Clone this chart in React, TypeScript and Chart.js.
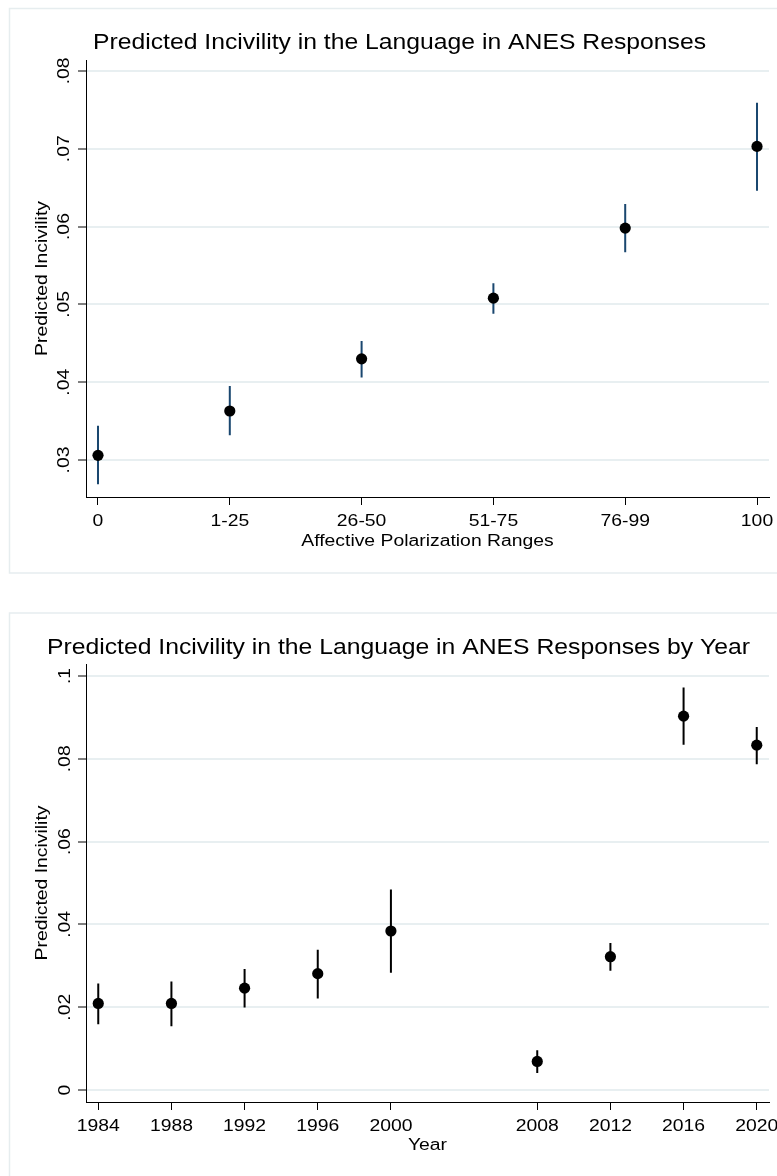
import { useEffect, useRef } from 'react';
import { Chart, registerables } from 'chart.js';

Chart.register(...registerables);

// Affective polarization ranges: predicted incivility with 95% CIs
const rangeLabels = ['0', '1-25', '26-50', '51-75', '76-99', '100'];
const rangePositions = [0, 1, 2, 3, 4, 5];
const rangeEstimate = [0.0306, 0.0363, 0.043, 0.0508, 0.0598, 0.0703];
const rangeLower = [0.0269, 0.0332, 0.0406, 0.0488, 0.0567, 0.0646];
const rangeUpper = [0.0344, 0.0395, 0.0453, 0.0527, 0.0629, 0.0759];
const rangeYTicks = [0.03, 0.04, 0.05, 0.06, 0.07, 0.08];
const rangeYTickLabels = ['.03', '.04', '.05', '.06', '.07', '.08'];

// Survey years: predicted incivility with 95% CIs
const years = [1984, 1988, 1992, 1996, 2000, 2008, 2012, 2016, 2020];
const yearLabels = ['1984', '1988', '1992', '1996', '2000', '2008', '2012', '2016', '2020'];
const yearEstimate = [0.0209, 0.0209, 0.0246, 0.0281, 0.0384, 0.0069, 0.0322, 0.0903, 0.0833];
const yearLower = [0.0159, 0.0154, 0.0199, 0.0221, 0.0283, 0.0041, 0.0288, 0.0834, 0.0787];
const yearUpper = [0.0257, 0.0262, 0.0292, 0.0339, 0.0484, 0.0096, 0.0355, 0.0972, 0.0877];
const yearYTicks = [0, 0.02, 0.04, 0.06, 0.08, 0.1];
const yearYTickLabels = ['0', '.02', '.04', '.06', '.08', '.1'];

const FONT = '"Liberation Sans", Arial, Helvetica, sans-serif';
const LABEL_SIZE = 17.3;
const STRETCH = 1.12;
const GRID = '#e8eff1';
const PANEL = '#e6edef';

type Spec = {
  title: string;
  titleLeft: number;
  titleRight: number;
  titleBaseline: number;
  titleSize: number;
  xTitle: string;
  xValues: number[];
  xLabels: string[];
  est: number[];
  lo: number[];
  hi: number[];
  yTicks: number[];
  yTickLabels: string[];
  xMin: number;
  xMax: number;
  yMin: number;
  yMax: number;
  barColor: string;
  padding: { left: number; right: number; top: number; bottom: number };
  panel: { x: number; y: number; w: number; h: number };
  xTickBaseline: number;
  xTitleBaseline: number;
  yTickBaseline: number;
  yTitleBaseline: number;
};

function drawText(
  ctx: CanvasRenderingContext2D,
  text: string,
  x: number,
  y: number,
  size: number,
  align: CanvasTextAlign,
  rotate: boolean,
  sx: number
) {
  ctx.save();
  ctx.font = `${size}px ${FONT}`;
  ctx.fillStyle = '#000';
  ctx.textBaseline = 'alphabetic';
  ctx.textAlign = align;
  ctx.translate(x, y);
  if (rotate) ctx.rotate(-Math.PI / 2);
  ctx.scale(sx, 1);
  ctx.fillText(text, 0, 0);
  ctx.restore();
}

function makeConfig(spec: Spec): any {
  const segments: any[] = [];
  spec.xValues.forEach((x, i) => {
    segments.push({ x, y: spec.lo[i] });
    segments.push({ x, y: spec.hi[i] });
    segments.push({ x, y: null });
  });
  const points = spec.xValues.map((x, i) => ({ x, y: spec.est[i] }));

  const decor = {
    id: 'decor',
    beforeDraw(chart: any) {
      const ctx = chart.ctx as CanvasRenderingContext2D;
      ctx.save();
      ctx.fillStyle = '#fff';
      ctx.fillRect(0, 0, chart.width, chart.height);
      ctx.strokeStyle = PANEL;
      ctx.lineWidth = 1.5;
      const p = spec.panel;
      ctx.strokeRect(p.x, p.y, p.w, p.h);
      ctx.restore();
    },
    afterDraw(chart: any) {
      const ctx = chart.ctx as CanvasRenderingContext2D;
      const xs = chart.scales.x;
      const ys = chart.scales.y;
      const area = chart.chartArea;

      // title stretched to its span
      ctx.save();
      ctx.font = `${spec.titleSize}px ${FONT}`;
      const natural = ctx.measureText(spec.title).width;
      ctx.restore();
      const tsx = (spec.titleRight - spec.titleLeft) / natural;
      drawText(ctx, spec.title, spec.titleLeft, spec.titleBaseline, spec.titleSize, 'left', false, tsx);

      spec.xValues.forEach((v, i) => {
        drawText(ctx, spec.xLabels[i], xs.getPixelForValue(v), spec.xTickBaseline, LABEL_SIZE, 'center', false, STRETCH);
      });
      drawText(ctx, spec.xTitle, (area.left + area.right) / 2, spec.xTitleBaseline, LABEL_SIZE, 'center', false, STRETCH);

      spec.yTicks.forEach((v, i) => {
        drawText(ctx, spec.yTickLabels[i], spec.yTickBaseline, ys.getPixelForValue(v), LABEL_SIZE, 'center', true, STRETCH);
      });
      drawText(ctx, 'Predicted Incivility', spec.yTitleBaseline, (area.top + area.bottom) / 2, LABEL_SIZE, 'center', true, STRETCH);
    },
  };

  return {
    type: 'scatter',
    data: {
      datasets: [
        {
          type: 'line',
          data: segments,
          borderColor: spec.barColor,
          borderWidth: 2,
          pointRadius: 0,
          showLine: true,
          spanGaps: false,
          fill: false,
          order: 2,
        },
        {
          type: 'scatter',
          data: points,
          backgroundColor: '#000',
          borderColor: '#000',
          borderWidth: 0,
          pointRadius: 5.6,
          order: 1,
        },
      ],
    },
    options: {
      responsive: false,
      animation: false,
      events: [],
      layout: { padding: spec.padding },
      plugins: {
        legend: { display: false },
        tooltip: { enabled: false },
        title: { display: false },
      },
      scales: {
        x: {
          type: 'linear',
          min: spec.xMin,
          max: spec.xMax,
          afterBuildTicks: (s: any) => {
            s.ticks = spec.xValues.map((v) => ({ value: v }));
          },
          afterFit: (s: any) => {
            s.height = 8;
          },
          ticks: { display: false },
          grid: {
            drawOnChartArea: false,
            drawTicks: true,
            tickLength: 8,
            tickColor: '#000',
            tickWidth: 1,
          },
          border: { display: true, color: '#000', width: 1 },
        },
        y: {
          type: 'linear',
          min: spec.yMin,
          max: spec.yMax,
          afterBuildTicks: (s: any) => {
            s.ticks = spec.yTicks.map((v) => ({ value: v }));
          },
          afterFit: (s: any) => {
            s.width = 8;
          },
          ticks: { display: false },
          grid: {
            color: GRID,
            lineWidth: 2,
            drawTicks: true,
            tickLength: 8,
            tickColor: '#000',
            tickWidth: 1,
          },
          border: { display: true, color: '#000', width: 1 },
        },
      },
    },
    plugins: [decor],
  };
}

const rangeSpec: Spec = {
  title: 'Predicted Incivility in the Language in ANES Responses',
  titleLeft: 93,
  titleRight: 706,
  titleBaseline: 49,
  titleSize: 22.5,
  xTitle: 'Affective Polarization Ranges',
  xValues: rangePositions,
  xLabels: rangeLabels,
  est: rangeEstimate,
  lo: rangeLower,
  hi: rangeUpper,
  yTicks: rangeYTicks,
  yTickLabels: rangeYTickLabels,
  xMin: -0.091,
  xMax: 5.091,
  yMin: 0.02525,
  yMax: 0.0814,
  barColor: '#1a476f',
  padding: { left: 78, right: 8, top: 60, bottom: 85 },
  panel: { x: 9.5, y: 8.5, w: 800, h: 564.5 },
  xTickBaseline: 525.5,
  xTitleBaseline: 545.5,
  yTickBaseline: 68.5,
  yTitleBaseline: 47,
};

const yearSpec: Spec = {
  title: 'Predicted Incivility in the Language in ANES Responses by Year',
  titleLeft: 47,
  titleRight: 750,
  titleBaseline: 64,
  titleSize: 22.5,
  xTitle: 'Year',
  xValues: years,
  xLabels: yearLabels,
  est: yearEstimate,
  lo: yearLower,
  hi: yearUpper,
  yTicks: yearYTicks,
  yTickLabels: yearYTickLabels,
  xMin: 1983.33,
  xMax: 2020.67,
  yMin: -0.0029,
  yMax: 0.1029,
  barColor: '#000',
  padding: { left: 78, right: 8, top: 74, bottom: 66 },
  panel: { x: 9.5, y: 23, w: 800, h: 700 },
  xTickBaseline: 541,
  xTitleBaseline: 560,
  yTickBaseline: 69.5,
  yTitleBaseline: 47,
};

function PanelChart({ spec, top, height }: { spec: Spec; top: number; height: number }) {
  const ref = useRef<HTMLCanvasElement | null>(null);
  useEffect(() => {
    if (!ref.current) return;
    const chart = new Chart(ref.current, makeConfig(spec));
    return () => chart.destroy();
  }, [spec]);
  return (
    <canvas
      ref={ref}
      width={777}
      height={height}
      style={{ position: 'absolute', left: 0, top, width: 777, height }}
    />
  );
}

export default function App() {
  return (
    <div
      style={{
        position: 'absolute',
        left: 0,
        top: 0,
        width: 777,
        height: 1176,
        background: '#fff',
        overflow: 'hidden',
      }}
    >
      <PanelChart spec={rangeSpec} top={0} height={590} />
      <PanelChart spec={yearSpec} top={590} height={586} />
    </div>
  );
}
